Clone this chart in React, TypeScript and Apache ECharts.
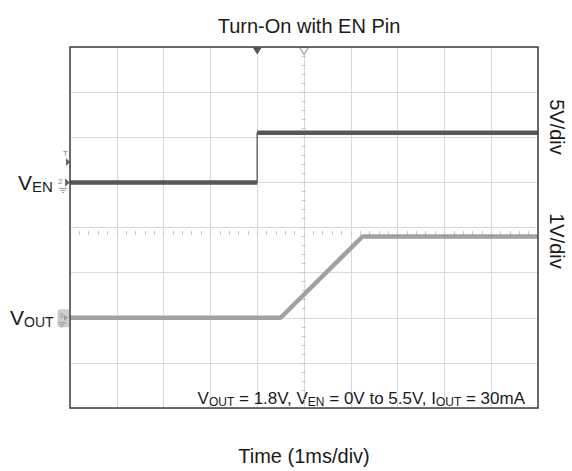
import React, { useEffect, useRef } from "react";
import * as echarts from "echarts";

// Time axis: 1 ms/div, 10 divisions
const timeTicks = [0, 1, 2, 3, 4, 5, 6, 7, 8, 9, 10];
// V_EN trace (volts), 5 V/div, ground reference at division 5 (from bottom)
const enTime = [0, 4, 4, 10];
const enVolts = [0, 0, 5.5, 5.5];
const enScale = 5;
const enOffset = 5;
// V_OUT trace (volts), 1 V/div, ground reference at division 2
const outTime = [0, 4.5, 6.25, 10];
const outVolts = [0, 0, 1.8, 1.8];
const outScale = 1;
const outOffset = 2;

const FONT = "'Liberation Sans', Arial, sans-serif";

export default function App() {
  const ref = useRef<HTMLDivElement>(null);
  useEffect(() => {
    if (!ref.current) return;
    const chart = echarts.init(ref.current, undefined, { renderer: "svg" });
    const enData = enTime.map((t, i) => [t, enOffset + enVolts[i] / enScale]);
    const outData = outTime.map((t, i) => [t, outOffset + outVolts[i] / outScale]);
    // flat (level) segments of the EN trace drawn thick; edges stay thin
    const enLevels: (number[] | null)[] = [];
    for (let i = 0; i < enData.length - 1; i++) {
      if (enVolts[i] === enVolts[i + 1]) {
        if (enLevels.length) enLevels.push(null);
        enLevels.push(enData[i], enData[i + 1]);
      }
    }
    const enLevelData = enLevels.map((d) => (d ? d : ["-", "-"]));
    const gridLine = { show: true, lineStyle: { color: "#d9d9d9", width: 1 } };
    const centerAxisX = (pos: string) => ({
      type: "value",
      min: 0,
      max: 10,
      interval: 1,
      position: pos,
      offset: -186,
      axisLine: { show: false },
      axisTick: { show: true, length: 2, lineStyle: { color: "#c8c8c8" } },
      minorTick: { show: true, splitNumber: 5, length: 2, lineStyle: { color: "#c8c8c8" } },
      axisLabel: { show: false },
      splitLine: { show: false },
    });
    const centerAxisY = (pos: string) => ({
      type: "value",
      min: 0,
      max: 8,
      interval: 1,
      position: pos,
      offset: -234,
      axisLine: { show: false },
      axisTick: { show: true, length: 2, lineStyle: { color: "#c8c8c8" } },
      minorTick: { show: true, splitNumber: 5, length: 2, lineStyle: { color: "#c8c8c8" } },
      axisLabel: { show: false },
      splitLine: { show: false },
    });
    chart.setOption({
      animation: false,
      backgroundColor: "#ffffff",
      title: {
        text: "Turn-On with EN Pin",
        left: 304,
        textAlign: "center",
        top: 11,
        textStyle: { fontFamily: FONT, fontSize: 20, fontWeight: "normal", color: "#1a1a1a" },
      },
      grid: { left: 70, top: 47, width: 468, height: 372, show: false },
      xAxis: [
        {
          type: "value",
          min: timeTicks[0],
          max: timeTicks[timeTicks.length - 1],
          interval: 1,
          axisLine: { show: false },
          axisTick: { show: false },
          axisLabel: { show: false },
          splitLine: gridLine,
          name: "Time (1ms/div)",
          nameLocation: "middle",
          nameGap: 38,
          nameTextStyle: { fontFamily: FONT, fontSize: 20, color: "#1a1a1a" },
        },
        centerAxisX("bottom"),
        centerAxisX("top"),
      ],
      yAxis: [
        {
          type: "value",
          min: 0,
          max: 8,
          interval: 1,
          axisLine: { show: false },
          axisTick: { show: false },
          axisLabel: { show: false },
          splitLine: gridLine,
        },
        centerAxisY("left"),
        centerAxisY("right"),
      ],
      series: [
        {
          type: "line",
          name: "VEN edge",
          data: enData,
          symbol: "none",
          lineStyle: { color: "#6a6a6a", width: 1.5 },
          z: 3,
          markPoint: {
            symbol: "triangle",
            symbolSize: [9, 7],
            symbolRotate: 180,
            silent: true,
            label: { show: false },
            itemStyle: { color: "#555555" },
            data: [{ coord: [4, 8], symbolOffset: [0, 4] }],
          },
        },
        {
          type: "line",
          name: "VEN",
          data: enLevelData,
          connectNulls: false,
          symbol: "none",
          lineStyle: { color: "#575757", width: 4.5 },
          z: 4,
        },
        {
          type: "line",
          name: "VOUT",
          data: outData,
          symbol: "none",
          lineStyle: { color: "#a0a0a0", width: 4.5 },
          z: 2,
          markPoint: {
            symbol: "triangle",
            symbolSize: [9, 7],
            symbolRotate: 180,
            silent: true,
            label: { show: false },
            itemStyle: { color: "#ffffff", borderColor: "#9a9a9a", borderWidth: 1 },
            data: [{ coord: [5, 8], symbolOffset: [0, 4] }],
          },
        },
      ],
    });

    const p = (x: number, y: number) => chart.convertToPixel({ gridIndex: 0 }, [x, y]) as number[];
    const en0 = p(0, enOffset);
    const out0 = p(0, outOffset);
    const trig = p(0, enOffset + 0.45);
    const gl = p(0, 8);
    const gr = p(10, 0);

    const ground = (x: number, y: number) => [
      { type: "line", shape: { x1: x - 4, y1: y, x2: x + 4, y2: y }, style: { stroke: "#999", lineWidth: 1 } },
      { type: "line", shape: { x1: x - 2.5, y1: y + 2, x2: x + 2.5, y2: y + 2 }, style: { stroke: "#999", lineWidth: 1 } },
      { type: "line", shape: { x1: x - 1, y1: y + 4, x2: x + 1, y2: y + 4 }, style: { stroke: "#999", lineWidth: 1 } },
    ];

    chart.setOption({
      graphic: [
        // plot frame
        {
          type: "rect",
          shape: { x: gl[0], y: gl[1], width: gr[0] - gl[0], height: gr[1] - gl[1] },
          style: { fill: "none", stroke: "#404040", lineWidth: 1.5 },
          z: 10,
        },
        // channel labels
        {
          type: "text",
          x: 18,
          y: en0[1],
          style: {
            text: "{v|V}{s|EN}",
            verticalAlign: "middle",
            rich: {
              v: { fontFamily: FONT, fontSize: 21, fill: "#1a1a1a" },
              s: { fontFamily: FONT, fontSize: 15, fill: "#1a1a1a", padding: [9, 0, 0, 0] },
            },
          },
        },
        {
          type: "text",
          x: 10,
          y: out0[1],
          style: {
            text: "{v|V}{s|OUT}",
            verticalAlign: "middle",
            rich: {
              v: { fontFamily: FONT, fontSize: 21, fill: "#1a1a1a" },
              s: { fontFamily: FONT, fontSize: 14, fill: "#1a1a1a", padding: [9, 0, 0, 0] },
            },
          },
        },
        // trigger marker
        {
          type: "text",
          x: 63,
          y: trig[1] - 13,
          style: { text: "T", fontFamily: FONT, fontSize: 8, fill: "#777" },
        },
        {
          type: "polygon",
          shape: { points: [[66, trig[1] - 4], [70, trig[1]], [66, trig[1] + 4]] },
          style: { fill: "#666" },
        },
        // channel 2 marker
        {
          type: "text",
          x: 58,
          y: en0[1] - 5,
          style: { text: "2", fontFamily: FONT, fontSize: 8, fill: "#888" },
        },
        {
          type: "polygon",
          shape: { points: [[65, en0[1] - 4], [70, en0[1]], [65, en0[1] + 4]] },
          style: { fill: "#666" },
        },
        ...ground(63, en0[1] + 6),
        // channel 3 marker badge
        {
          type: "rect",
          shape: { x: 58, y: out0[1] - 8, width: 11, height: 17, r: 1.5 },
          style: { fill: "#cfcfcf", stroke: "#b5b5b5", lineWidth: 0.5 },
        },
        {
          type: "text",
          x: 59,
          y: out0[1] - 6,
          style: { text: "3", fontFamily: FONT, fontSize: 8, fill: "#999" },
        },
        {
          type: "polygon",
          shape: { points: [[64, out0[1] - 3], [68, out0[1]], [64, out0[1] + 3]] },
          style: { fill: "#9c9c9c" },
        },
        ...ground(62, out0[1] + 5),
        // scale labels
        {
          type: "text",
          x: 557,
          y: 127,
          rotation: -Math.PI / 2,
          style: {
            text: "5V/div",
            fontFamily: FONT,
            fontSize: 20,
            fill: "#1a1a1a",
            align: "center",
            verticalAlign: "middle",
          },
        },
        {
          type: "text",
          x: 557,
          y: 241,
          rotation: -Math.PI / 2,
          style: {
            text: "1V/div",
            fontFamily: FONT,
            fontSize: 20,
            fill: "#1a1a1a",
            align: "center",
            verticalAlign: "middle",
          },
        },
        // conditions annotation
        {
          type: "text",
          x: 525,
          y: 398,
          style: {
            text:
              "{v|V}{s|OUT}{v| = 1.8V, V}{s|EN}{v| = 0V to 5.5V, I}{s|OUT}{v| = 30mA}",
            align: "right",
            verticalAlign: "middle",
            rich: {
              v: { fontFamily: FONT, fontSize: 17, fill: "#1a1a1a" },
              s: { fontFamily: FONT, fontSize: 12, fill: "#1a1a1a", padding: [7, 0, 0, 0] },
            },
          },
        },
      ],
    });

    return () => chart.dispose();
  }, []);
  return (
    <div
      ref={ref}
      style={{ position: "fixed", left: 0, top: 0, width: 572, height: 471 }}
    />
  );
}
